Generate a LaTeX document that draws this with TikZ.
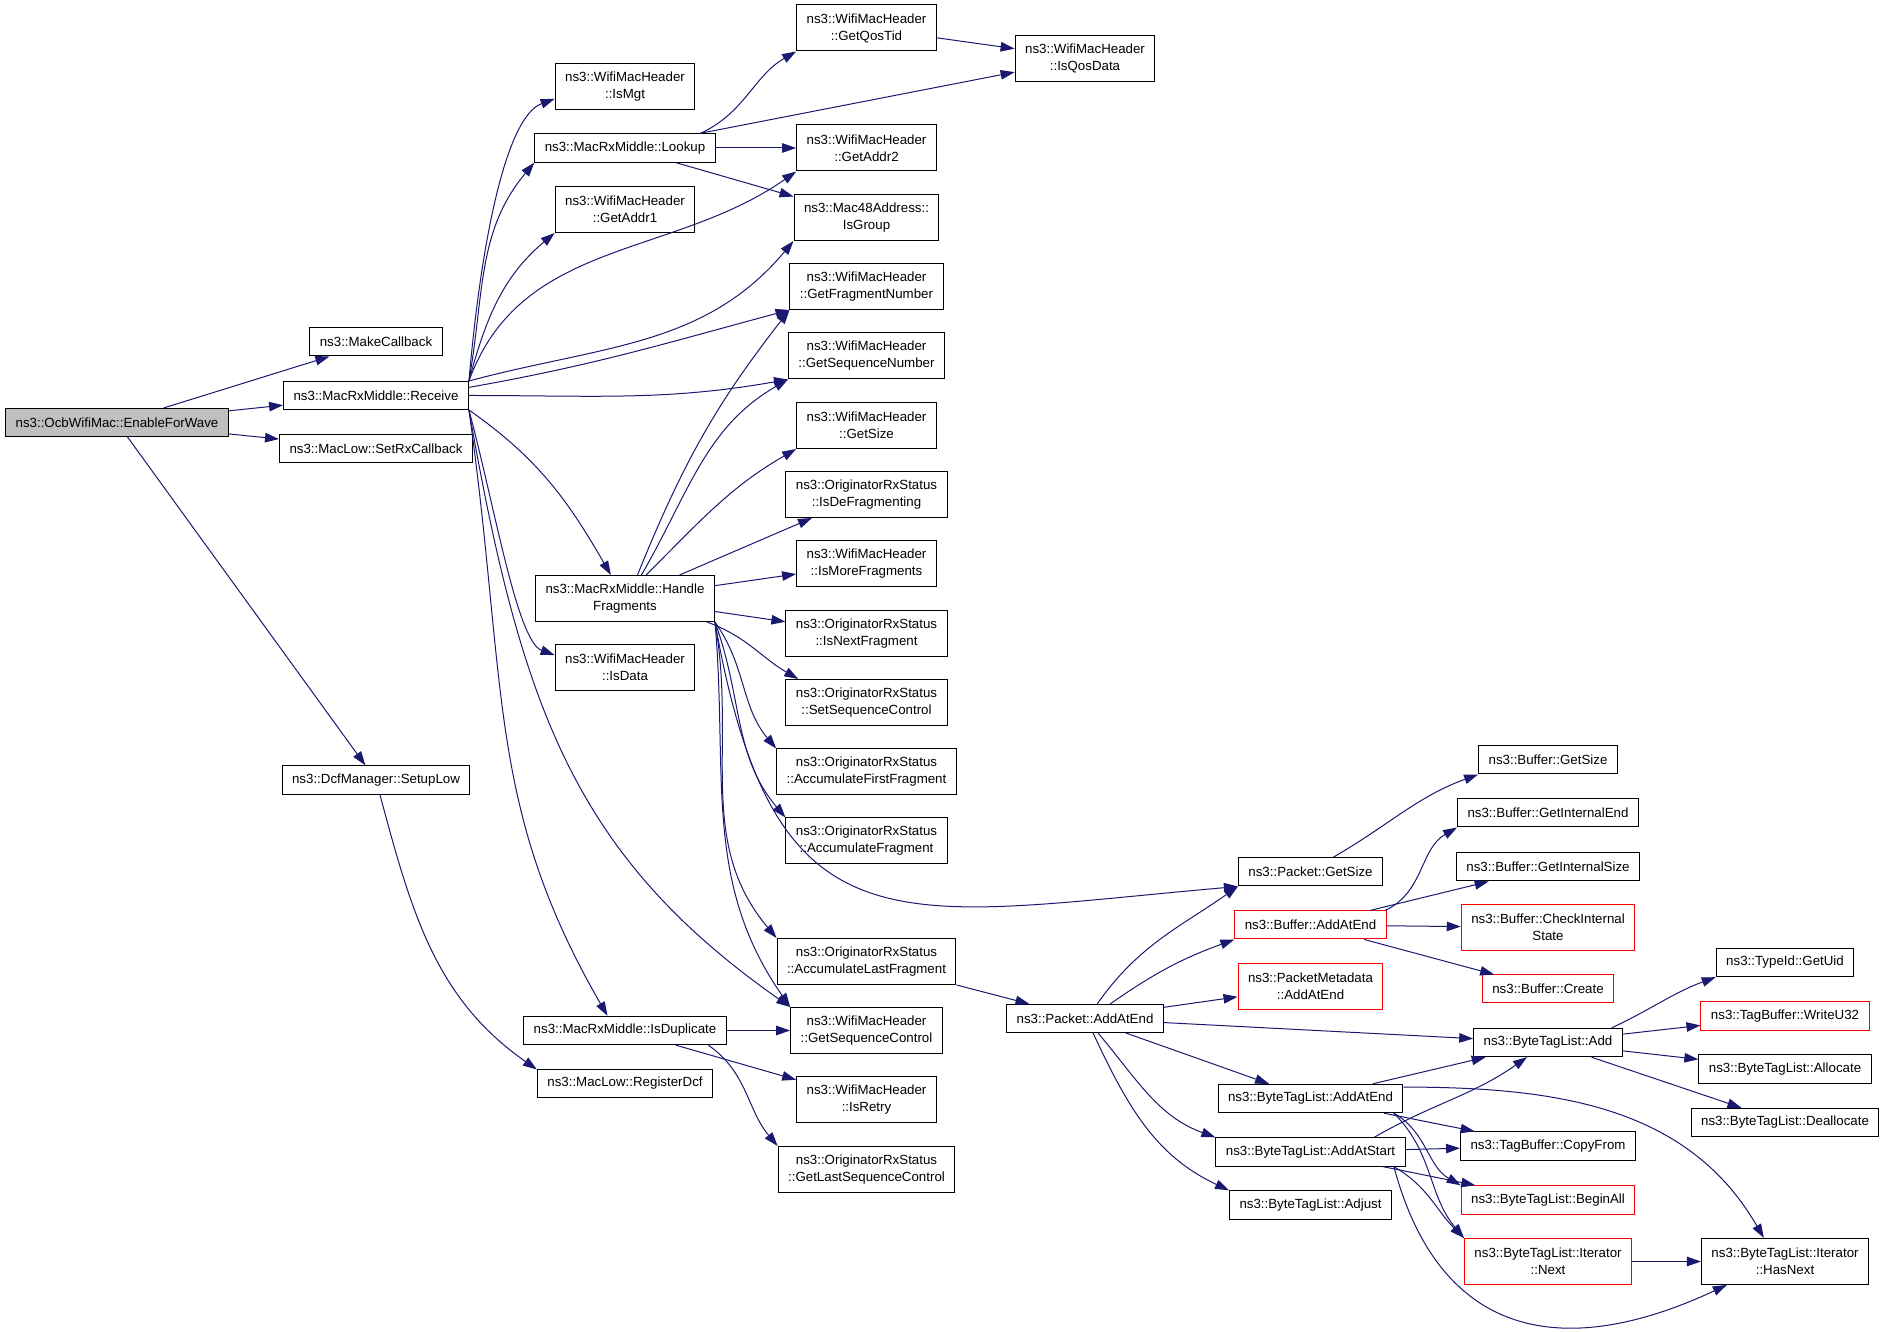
\documentclass[tikz,border=0pt]{standalone}
\usepackage{fontspec}
\setmainfont{Liberation Sans}
\usepackage{xcolor}
\usetikzlibrary{arrows.meta}

\definecolor{edgeblue}{HTML}{191970}
\newcommand{\fnfont}{\fontsize{13.3}{17}\selectfont}

\begin{document}
\begin{tikzpicture}[x=1pt,y=1pt,
    func/.style={draw=black,line width=1pt,align=center,font=\fnfont,
      minimum height=28pt,inner xsep=10pt,inner ysep=8pt},
    func2/.style={func,minimum height=46pt},
    miss/.style={draw=red},
    cur/.style={fill=black!25},
    call/.style={draw=edgeblue,line width=1pt,-{Triangle[length=14pt,width=9.5pt]}}]
  \useasboundingbox (0,0) rectangle (1885,1331);

  \def\colA{117}
  \def\colB{376}
  \def\colC{625}
  \def\colD{866.5}
  \def\colE{1085}
  \def\colF{1310.5}
  \def\colG{1548}
  \def\colH{1785}

  % Start
  \node[func,cur] (enable) at (\colA,908.5) {ns3::OcbWifiMac::EnableForWave};

  \node[func] (makecb) at (\colB,989) {ns3::MakeCallback};
  \node[func] (receive) at (\colB,935.5) {ns3::MacRxMiddle::Receive};
  \node[func] (setrx) at (\colB,882) {ns3::MacLow::SetRxCallback};
  \node[func] (setuplow) at (\colB,551) {ns3::DcfManager::SetupLow};

  \node[func2] (ismgt) at (\colC,1244.5) {ns3::WifiMacHeader\\::IsMgt};
  \node[func] (lookup) at (\colC,1183) {ns3::MacRxMiddle::Lookup};
  \node[func2] (getaddr1) at (\colC,1121.5) {ns3::WifiMacHeader\\::GetAddr1};
  \node[func2] (handlefrag) at (\colC,732.5) {ns3::MacRxMiddle::Handle\\Fragments};
  \node[func2] (isdata) at (\colC,663.5) {ns3::WifiMacHeader\\::IsData};
  \node[func] (isdup) at (\colC,300.5) {ns3::MacRxMiddle::IsDuplicate};
  \node[func] (registerdcf) at (\colC,247.5) {ns3::MacLow::RegisterDcf};

  \node[func2] (getqostid) at (\colD,1303) {ns3::WifiMacHeader\\::GetQosTid};
  \node[func2] (getaddr2) at (\colD,1183) {ns3::WifiMacHeader\\::GetAddr2};
  \node[func2] (isgroup) at (\colD,1113.5) {ns3::Mac48Address::\\IsGroup};
  \node[func2] (getfragnum) at (\colD,1044.5) {ns3::WifiMacHeader\\::GetFragmentNumber};
  \node[func2] (getseqnum) at (\colD,975) {ns3::WifiMacHeader\\::GetSequenceNumber};
  \node[func2] (wmhgetsize) at (\colD,905.5) {ns3::WifiMacHeader\\::GetSize};
  \node[func2] (isdefrag) at (\colD,836.5) {ns3::OriginatorRxStatus\\::IsDeFragmenting};
  \node[func2] (ismorefrag) at (\colD,767) {ns3::WifiMacHeader\\::IsMoreFragments};
  \node[func2] (isnextfrag) at (\colD,697.5) {ns3::OriginatorRxStatus\\::IsNextFragment};
  \node[func2] (setseqctl) at (\colD,628.5) {ns3::OriginatorRxStatus\\::SetSequenceControl};
  \node[func2] (accfirst) at (\colD,559) {ns3::OriginatorRxStatus\\::AccumulateFirstFragment};
  \node[func2] (accfrag) at (\colD,490) {ns3::OriginatorRxStatus\\::AccumulateFragment};
  \node[func2] (acclast) at (\colD,369.5) {ns3::OriginatorRxStatus\\::AccumulateLastFragment};
  \node[func2] (getseqctl) at (\colD,300.5) {ns3::WifiMacHeader\\::GetSequenceControl};
  \node[func2] (isretry) at (\colD,231) {ns3::WifiMacHeader\\::IsRetry};
  \node[func2] (getlastseq) at (\colD,161.5) {ns3::OriginatorRxStatus\\::GetLastSequenceControl};

  \node[func2] (isqosdata) at (\colE,1272.5) {ns3::WifiMacHeader\\::IsQosData};
  \node[func] (pktaddatend) at (\colE,312.5) {ns3::Packet::AddAtEnd};

  \node[func] (pktgetsize) at (\colF,459) {ns3::Packet::GetSize};
  \node[func,miss] (bufaddatend) at (\colF,406) {ns3::Buffer::AddAtEnd};
  \node[func2,miss] (pmaddatend) at (\colF,344.5) {ns3::PacketMetadata\\::AddAtEnd};
  \node[func] (btladdatend) at (\colF,232.5) {ns3::ByteTagList::AddAtEnd};
  \node[func] (btladdatstart) at (\colF,179) {ns3::ByteTagList::AddAtStart};
  \node[func] (btladjust) at (\colF,126) {ns3::ByteTagList::Adjust};

  \node[func] (bufgetsize) at (\colG,571) {ns3::Buffer::GetSize};
  \node[func] (getintend) at (\colG,518) {ns3::Buffer::GetInternalEnd};
  \node[func] (getintsize) at (\colG,464) {ns3::Buffer::GetInternalSize};
  \node[func2,miss] (checkint) at (\colG,403.5) {ns3::Buffer::CheckInternal\\State};
  \node[func,miss] (bufcreate) at (\colG,342) {ns3::Buffer::Create};
  \node[func] (btladd) at (\colG,288.5) {ns3::ByteTagList::Add};
  \node[func] (copyfrom) at (\colG,185) {ns3::TagBuffer::CopyFrom};
  \node[func,miss] (beginall) at (\colG,131) {ns3::ByteTagList::BeginAll};
  \node[func2,miss] (iternext) at (\colG,69.5) {ns3::ByteTagList::Iterator\\::Next};

  \node[func] (getuid) at (\colH,368.5) {ns3::TypeId::GetUid};
  \node[func,miss] (writeu32) at (\colH,315) {ns3::TagBuffer::WriteU32};
  \node[func] (allocate) at (\colH,262) {ns3::ByteTagList::Allocate};
  \node[func] (deallocate) at (\colH,208.5) {ns3::ByteTagList::Deallocate};
  \node[func2] (hasnext) at (\colH,69.5) {ns3::ByteTagList::Iterator\\::HasNext};

  % EnableForWave
  \draw[call] (enable) -- (makecb);
  \draw[call] (enable) -- (receive);
  \draw[call] (enable) -- (setrx);
  \draw[call] (enable) -- (setuplow);

  % Receive
  \draw[call] (receive.north east) to[out=85,in=200,out distance=150pt,in distance=50pt] (ismgt.190);
  \draw[call] (receive.north east) to[out=80,in=230] (lookup.south west);
  \draw[call] (receive.north east) to[out=75,in=220] (getaddr1.south west);
  \draw[call] (receive.north east) to[out=70,in=215] (getaddr2.south west);
  \draw[call] (receive.north east) to[out=15,in=230] (isgroup.south west);
  \draw[call] (receive.5) to[out=10,in=195] (getfragnum.south west);
  \draw[call] (receive.east) to[out=0,in=190] (getseqnum.south west);
  \draw[call] (receive.south east) to[out=-35,in=120] (handlefrag.121);
  \draw[call] (receive.south east) to[out=-75,in=160,in distance=40pt] (isdata.170);
  \draw[call] (receive.south east) to[out=-82,in=120,out distance=280pt] (isdup.140);
  \draw[call] (receive.south east) to[out=-80,in=145,out distance=300pt] (getseqctl.north west);

  % Lookup
  \draw[call] (lookup.11) to[out=25,in=210] (getqostid.south west);
  \draw[call] (lookup) -- (isqosdata);
  \draw[call] (lookup) -- (getaddr2);
  \draw[call] (lookup) -- (isgroup);
  \draw[call] (getqostid) -- (isqosdata);

  % HandleFragments
  \draw[call] (handlefrag.62) to[out=68,in=232] (getfragnum.south west);
  \draw[call] (handlefrag.55) to[out=60,in=210] (getseqnum.south west);
  \draw[call] (handlefrag.48) to[out=45,in=210] (wmhgetsize.south west);
  \draw[call] (handlefrag) -- (isdefrag);
  \draw[call] (handlefrag) -- (ismorefrag);
  \draw[call] (handlefrag) -- (isnextfrag);
  \draw[call] (handlefrag.-16) to[out=-20,in=150] (setseqctl.161);
  \draw[call] (handlefrag.south east) to[out=-55,in=130] (accfirst.north west);
  \draw[call] (handlefrag.south east) to[out=-70,in=130] (accfrag.north west);
  \draw[call] (handlefrag.south east) to[out=-80,in=185,looseness=1.5] (pktgetsize.south west);
  \draw[call] (handlefrag.south east) to[out=-80,in=130] (acclast.north west);
  \draw[call] (handlefrag.south east) to[out=-85,in=125] (getseqctl.north west);

  % IsDuplicate
  \draw[call] (isdup) -- (getseqctl);
  \draw[call] (isdup) -- (isretry);
  \draw[call] (isdup.-10) to[out=-35,in=130] (getlastseq.north west);

  % SetupLow
  \draw[call] (setuplow) to[out=-75,in=145] (registerdcf.171);

  % Packet
  \draw[call] (acclast) -- (pktaddatend);
  \draw[call] (pktaddatend.50) to[out=55,in=215] (pktgetsize.south west);
  \draw[call] (pktaddatend.30) to[out=35,in=200] (bufaddatend.south west);
  \draw[call] (pktaddatend) -- (pmaddatend);
  \draw[call] (pktaddatend) -- (btladd);
  \draw[call] (pktaddatend) -- (btladdatend);
  \draw[call] (pktaddatend.-48) to[out=-50,in=160] (btladdatstart.north west);
  \draw[call] (pktaddatend.-61) to[out=-65,in=155] (btladjust.north west);
  \draw[call] (pktgetsize.33) to[out=30,in=200] (bufgetsize.south west);

  % Buffer
  \draw[call] (bufaddatend.11) to[out=25,in=210] (getintend.south west);
  \draw[call] (bufaddatend) -- (getintsize);
  \draw[call] (bufaddatend) -- (checkint);
  \draw[call] (bufaddatend) -- (bufcreate);

  % ByteTagList
  \draw[call] (btladd.13) to[out=25,in=200] (getuid.south west);
  \draw[call] (btladd) -- (writeu32);
  \draw[call] (btladd) -- (allocate);
  \draw[call] (btladd) -- (deallocate);

  \draw[call] (btladdatend) -- (btladd);
  \draw[call] (btladdatend.7) to[out=0,in=120] (hasnext.132);
  \draw[call] (btladdatend) -- (copyfrom);
  \draw[call] (btladdatend.-10) to[out=-30,in=150] (beginall.north west);
  \draw[call] (btladdatend.-10) to[out=-45,in=130] (iternext.north west);

  \draw[call] (btladdatstart.13) to[out=30,in=215] (btladd.215);
  \draw[call] (btladdatstart) -- (copyfrom);
  \draw[call] (btladdatstart) -- (beginall);
  \draw[call] (btladdatstart.-10) to[out=-30,in=135] (iternext.north west);
  \draw[call] (btladdatstart.-10) to[out=-75,in=205,looseness=1.3] (hasnext.202);
  \draw[call] (iternext) -- (hasnext);
\end{tikzpicture}
\end{document}
